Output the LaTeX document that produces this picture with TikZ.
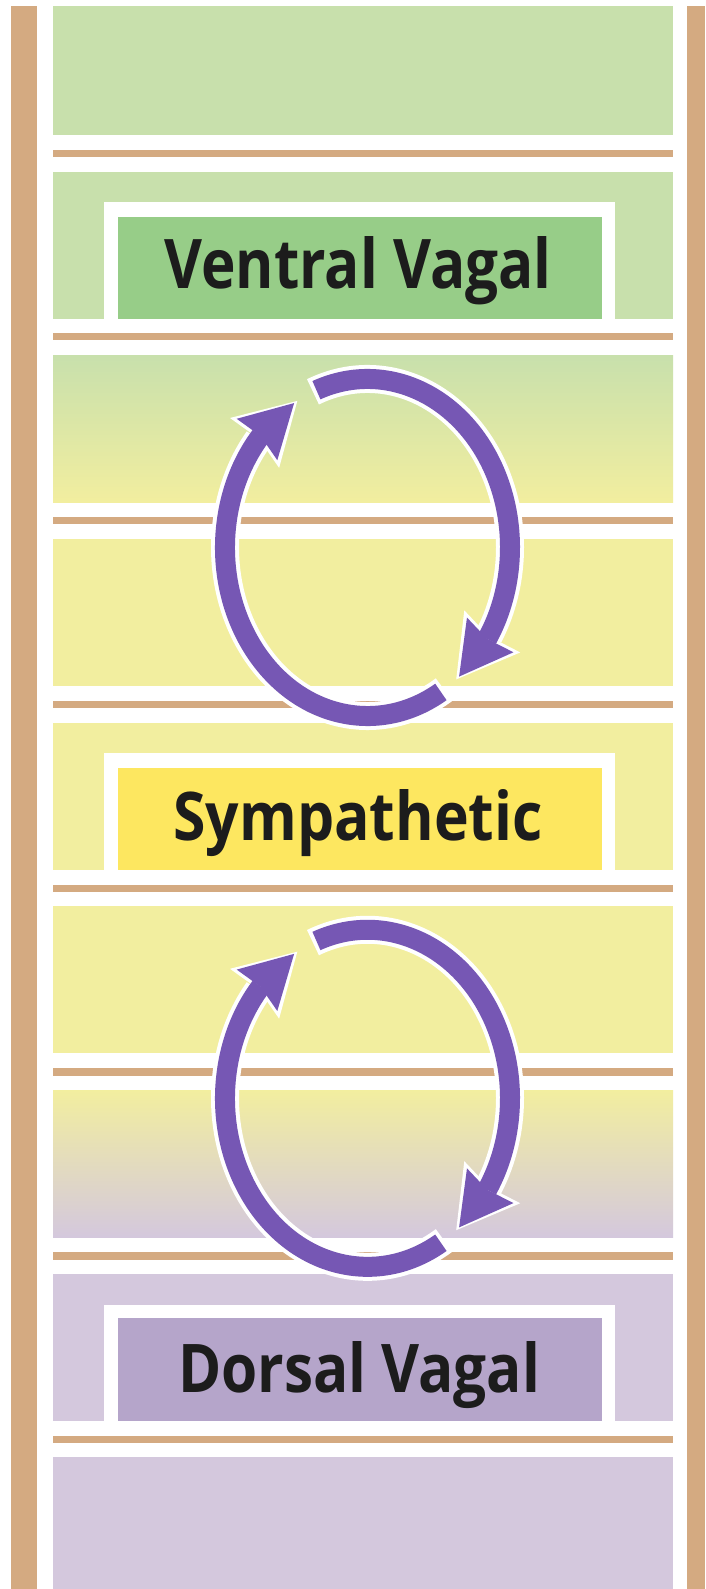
\documentclass[tikz,border=0pt]{standalone}
\usepackage{fontspec}
\usepackage{graphicx}
\newfontfamily\labelfont{Open Sans}
\usetikzlibrary{arrows.meta,bending}

\definecolor{rail}{HTML}{D4AA81}
\definecolor{greenpanel}{HTML}{C8E0AC}
\definecolor{yellowpanel}{HTML}{F2EE9F}
\definecolor{lavpanel}{HTML}{D4C8DD}
\definecolor{labelgreen}{HTML}{97CD88}
\definecolor{labelyellow}{HTML}{FDE760}
\definecolor{labellav}{HTML}{B5A5CA}
\definecolor{cyclepurple}{HTML}{7657B4}
\definecolor{ink}{HTML}{1C1C1C}

\begin{document}
\begin{tikzpicture}[x=1pt,y=-1pt,
  panel/.style={fill=#1},
  rung/.style={fill=rail},
  labelframe/.style={fill=white},
  labeltext/.style={anchor=base, inner sep=0pt, text=ink},
  halo/.style={draw=white, line width=28pt},
  cycle/.style={draw=cyclepurple, line width=20pt},
  halotip/.style={-{Stealth[flex, length=60pt, width=70pt, inset=6pt, line width=0pt]}},
  cycletip/.style={-{Stealth[flex, length=52pt, width=58pt, inset=5pt, line width=0pt]}}]

\useasboundingbox (0,0) rectangle (705,1589);
\fill[white] (0,0) rectangle (705,1589);

% side rails
\fill[rail] (11,6) rectangle (37,1589);
\fill[rail] (687,6) rectangle (705,1589);

% ladder panels, top to bottom
\fill[panel=greenpanel] (53,6) rectangle (673,135.4);
\fill[panel=greenpanel] (53,172) rectangle (673,319);
\shade[top color=greenpanel, bottom color=yellowpanel] (53,355.6) rectangle (673,502.6);
\fill[panel=yellowpanel] (53,539.2) rectangle (673,686.2);
\fill[panel=yellowpanel] (53,722.8) rectangle (673,869.8);
\fill[panel=yellowpanel] (53,906.4) rectangle (673,1053.4);
\shade[top color=yellowpanel, bottom color=lavpanel] (53,1090) rectangle (673,1237);
\fill[panel=lavpanel] (53,1273.6) rectangle (673,1420.6);
\fill[panel=lavpanel] (53,1457.2) rectangle (673,1589);

% rungs between the panels
\foreach \y in {153.7, 336.3, 520.4, 704.3, 888.4, 1071.9, 1256.0, 1439.4}
  \fill[rung] (53,\y-3.8) rectangle (673,\y+3.8);

% state labels
\fill[labelframe] (104,202) rectangle (615,319);
\fill[labelgreen] (118,217) rectangle (602,319);
\node[labeltext] (ventral) at (358,288.5)
  {\resizebox{387pt}{52pt}{\labelfont\bfseries Ventral Vagal}};

\fill[labelframe] (104,753) rectangle (615,869.8);
\fill[labelyellow] (118,768) rectangle (602,869.8);
\node[labeltext] (sympathetic) at (358,840)
  {\resizebox{369pt}{51pt}{\labelfont\bfseries Sympathetic}};

\fill[labelframe] (104,1304.5) rectangle (615,1420.6);
\fill[labellav] (118,1318) rectangle (602,1420.6);
\node[labeltext] (dorsal) at (359,1392.7)
  {\resizebox{362pt}{51pt}{\labelfont\bfseries Dorsal Vagal}};

% circular arrows between neighbouring states
\coordinate (c1) at (367.5,547.5);
\coordinate (c2) at (367.5,1098.3);
\foreach \c in {c1,c2} {
  \draw[halo, halotip] ([shift={(112.5:142.5pt and 168.5pt)}]\c)
    arc[start angle=112.5, end angle=-51.5, x radius=142.5pt, y radius=168.5pt];
  \draw[halo, halotip] ([shift={(-57.5:142.5pt and 168.5pt)}]\c)
    arc[start angle=-57.5, end angle=-240.5, x radius=142.5pt, y radius=168.5pt];
  \draw[cycle, cycletip] ([shift={(111:142.5pt and 168.5pt)}]\c)
    arc[start angle=111, end angle=-50, x radius=142.5pt, y radius=168.5pt];
  \draw[cycle, cycletip] ([shift={(-59:142.5pt and 168.5pt)}]\c)
    arc[start angle=-59, end angle=-239, x radius=142.5pt, y radius=168.5pt];
}
\end{tikzpicture}
\end{document}
